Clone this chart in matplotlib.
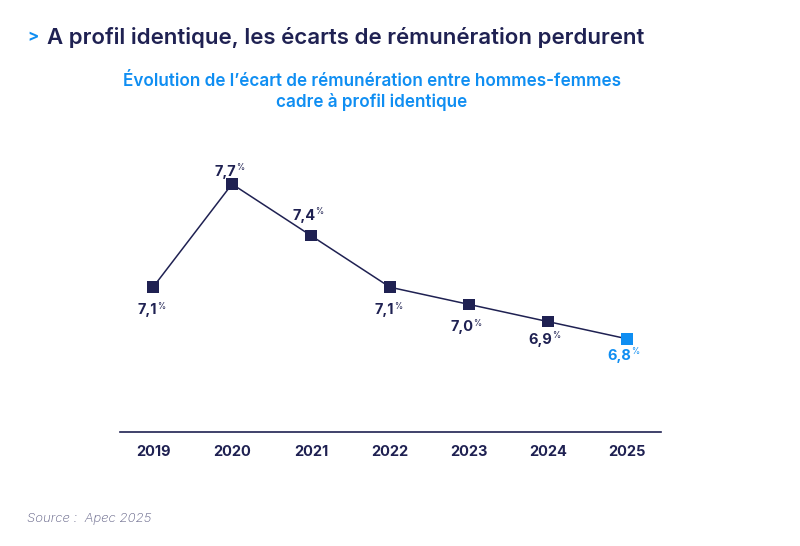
import matplotlib
matplotlib.use("Agg")
import matplotlib.pyplot as plt

years = [2019, 2020, 2021, 2022, 2023, 2024, 2025]
values = [7.1, 7.7, 7.4, 7.1, 7.0, 6.9, 6.8]
labels = ["7,1", "7,7", "7,4", "7,1", "7,0", "6,9", "6,8"]

NAVY = "#1f2152"
BLUE = "#0f8ef2"
FONT = ["Inter", "DejaVu Sans"]
plt.rcParams['font.family'] = FONT

W, H = 800, 546
PX = 0.72  # points per pixel at dpi 100
# label vertical offsets in pixels (positive = up)
label_dy_px = [-23, 12, 20, -23, -23, -18, -17]

fig = plt.figure(figsize=(W / 100, H / 100), dpi=100)
ax = fig.add_axes([120 / W, 1 - 432 / H, (661 - 120) / W, (432 - 150) / H])
ax.set_xlim(2018.582, 2025.43)
ax.set_ylim(6.258, 7.898)

ax.plot(years, values, color=NAVY, lw=1.1, zorder=2)
colors = [NAVY] * (len(years) - 1) + [BLUE]
ax.scatter(years, values, marker="s", s=68, c=colors, zorder=3, linewidths=0)

for x, v, lab, dpx, c in zip(years, values, labels, label_dy_px, colors):
    dy = dpx * PX
    ax.annotate(lab, (x, v), xytext=(3, dy), textcoords="offset points",
                ha="right", va="center", fontsize=10.5, fontweight="bold", color=c)
    ax.annotate("%", (x, v), xytext=(3.3, dy + 3), textcoords="offset points",
                ha="left", va="center", fontsize=6, color=c)

for s in ["top", "right", "left"]:
    ax.spines[s].set_visible(False)
ax.spines["bottom"].set_color(NAVY)
ax.spines["bottom"].set_linewidth(1.2)
ax.set_yticks([])
ax.set_xticks(years)
ax.set_xticklabels([str(y) for y in years], fontsize=10.5, fontweight="bold", color=NAVY)
ax.tick_params(axis="x", length=0, pad=9)

fig.text(27 / W, 1 - 37 / H, ">", fontsize=12, fontweight="bold", color=BLUE, va="center", ha="left")
fig.text(47 / W, 1 - 37 / H, "A profil identique, les écarts de rémunération perdurent",
         fontsize=16, fontweight="semibold", color=NAVY, va="center", ha="left")
fig.text(372 / W, 1 - 92 / H, "Évolution de l’écart de rémunération entre hommes-femmes\ncadre à profil identique",
         fontsize=12.3, fontweight="semibold", color=BLUE, va="center", ha="center", linespacing=1.25)
fig.text(27 / W, 1 - 519 / H, "Source :  Apec 2025", fontsize=9.5, fontstyle="italic",
         fontweight="light", color="#5a5a80", va="center", ha="left")

fig.savefig("out.png", dpi=100, facecolor="white")
